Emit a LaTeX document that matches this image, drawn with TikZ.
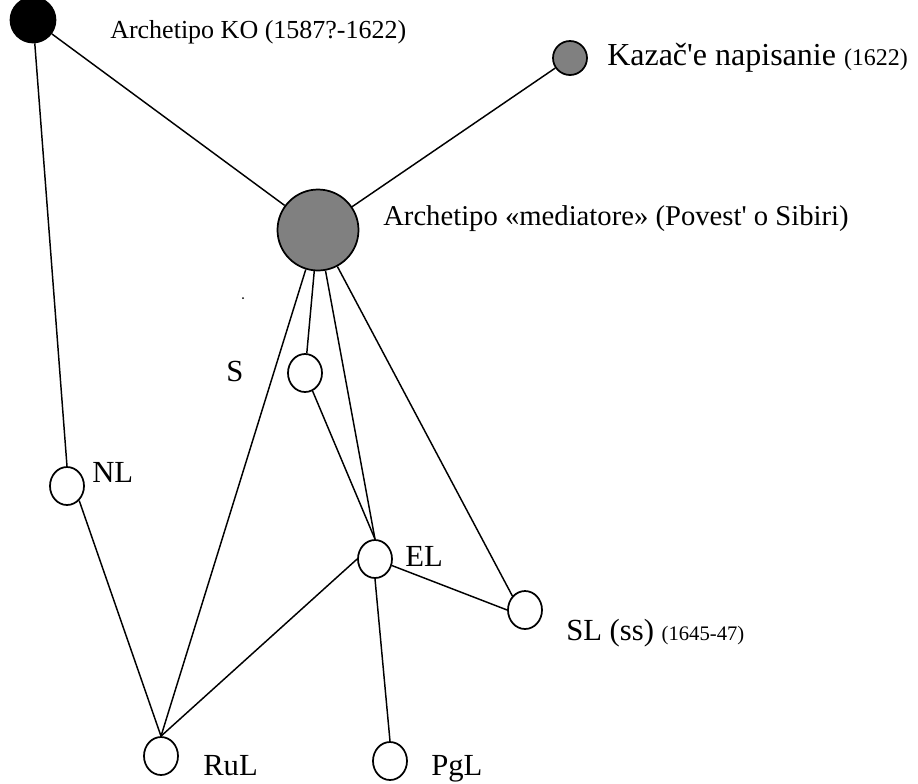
\documentclass[tikz,border=0pt]{standalone}
\usepackage{fontspec}
\setmainfont{Liberation Serif}
\usetikzlibrary{shapes.geometric}
\definecolor{archgray}{HTML}{808080}
\begin{document}
\begin{tikzpicture}[x=0.75pt,y=-0.75pt,
  witness/.style={ellipse,draw,line width=1.3pt,fill=white,inner sep=0pt,minimum width=25.5pt,minimum height=28.5pt},
  archetype/.style={circle,draw,line width=1.3pt,fill=archgray,inner sep=0pt},
  link/.style={line width=1.1pt},
  lbl/.style={anchor=base west,inner sep=0pt,font=\fontsize{23}{27}\selectfont}]
\useasboundingbox (0,0) rectangle (918,783);

% archetypes
\node[archetype,fill=black,minimum size=33.75pt] (ko) at (33,20) {};
\node[archetype,minimum size=25.5pt] (kaz) at (570,58) {};
\node[archetype,minimum size=60.75pt] (med) at (318,230) {};

% witnesses
\node[witness] (s) at (305,373) {};
\node[witness] (nl) at (67,486) {};
\node[witness] (el) at (375,559) {};
\node[witness] (sl) at (525,610) {};
\node[witness] (rul) at (161,756) {};
\node[witness] (pgl) at (390,761) {};
\node[circle,fill=black,inner sep=0pt,minimum size=1.5pt] (dot) at (243,298) {};

% labels
\node[lbl,font=\fontsize{19.5}{23}\selectfont] (kolbl) at (110,38) {Archetipo KO (1587?-1622)};
\node[lbl,font=\fontsize{24}{28}\selectfont] (kazlbl) at (607,65) {Kazač\textquotesingle e napisanie {\fontsize{18}{21}\selectfont(1622)}};
\node[lbl,font=\fontsize{21.5}{25}\selectfont] (medlbl) at (383,225) {Archetipo «mediatore» (Povest\textquotesingle{} o Sibiri)};
\node[lbl] (slbl) at (226,381) {S};
\node[lbl] (nllbl) at (92,482) {NL};
\node[lbl] (ellbl) at (405,566) {EL};
\node[lbl] (sllbl) at (566,640) {SL (ss) {\fontsize{15.5}{18}\selectfont(1645-47)}};
\node[lbl] (rullbl) at (203,775) {RuL};
\node[lbl] (pgllbl) at (431,775) {PgL};

% stemma
\draw[link] (ko) -- (nl.north);
\draw[link] (ko) -- (med);
\draw[link] (kaz) -- (med);
\draw[link] (med) -- (rul.north);
\draw[link] (med) -- (s);
\draw[link] (med) -- (el.north);
\draw[link] (med) -- (sl.north west);
\draw[link] (s) -- (el.north);
\draw[link] (nl.-50) -- (rul.north);
\draw[link] (el.west) -- (rul.north);
\draw[link] (el.south) -- (pgl.north);
\draw[link] (el) -- (sl.west);
\end{tikzpicture}
\end{document}
